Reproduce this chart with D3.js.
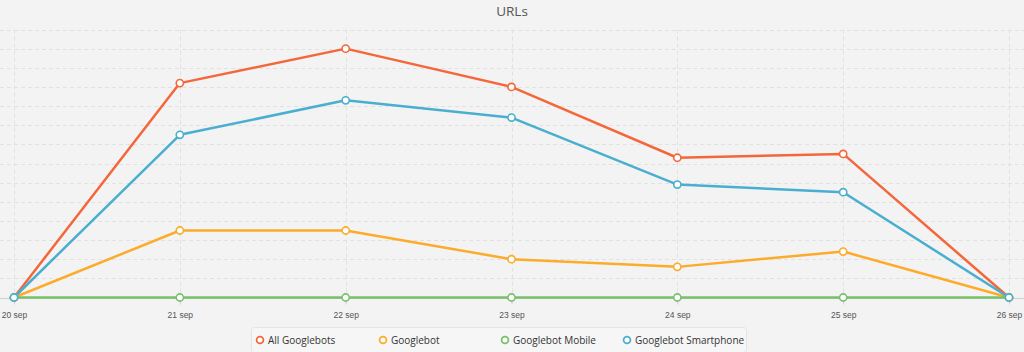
<!DOCTYPE html>
<html>
<head>
<meta charset="utf-8">
<script src="https://cdn.jsdelivr.net/npm/d3@7"></script>
<style>
  body { margin: 0; background: #f3f3f3; }
  svg { display: block; font-family: "Open Sans", "Noto Sans", sans-serif; }
</style>
</head>
<body>
<div id="chart"></div>
<script>
// data
const dates = ["20 sep", "21 sep", "22 sep", "23 sep", "24 sep", "25 sep", "26 sep"];
const seriesNames = ["All Googlebots", "Googlebot", "Googlebot Mobile", "Googlebot Smartphone"];
const allGooglebots = [0, 112, 130, 110, 73, 75, 0];
const googlebot = [0, 35, 35, 20, 16, 24, 0];
const googlebotMobile = [0, 0, 0, 0, 0, 0, 0];
const googlebotSmartphone = [0, 85, 103, 94, 59, 55, 0];
const colors = ["#f4673b", "#fcab2a", "#79c06b", "#4aaed1"];

const width = 1024, height = 352;
const series = [allGooglebots, googlebot, googlebotMobile, googlebotSmartphone];

const svg = d3.select("#chart")
    .append("svg")
    .attr("width", width)
    .attr("height", height);

svg.append("rect").attr("width", width).attr("height", height).attr("fill", "#f3f3f3");

const x = d3.scalePoint()
    .domain(dates)
    .range([14, 1009]);

const y = d3.scaleLinear()
    .domain([0, 140])
    .range([297.5, 29.5]);

// horizontal grid
svg.append("g")
    .selectAll("line")
    .data(d3.range(10, 141, 10))
    .join("line")
    .attr("x1", 0)
    .attr("x2", width)
    .attr("y1", d => Math.round(y(d)) + 0.5)
    .attr("y2", d => Math.round(y(d)) + 0.5)
    .attr("stroke", "#e1e1e1")
    .attr("stroke-dasharray", "4,3");

// vertical grid
svg.append("g")
    .selectAll("line")
    .data(dates)
    .join("line")
    .attr("x1", d => Math.round(x(d)) + 0.5)
    .attr("x2", d => Math.round(x(d)) + 0.5)
    .attr("y1", y(140))
    .attr("y2", y(0))
    .attr("stroke", "#e1e1e1")
    .attr("stroke-dasharray", "4,3");

// x axis
const xAxis = svg.append("g")
    .attr("transform", `translate(0,${Math.round(y(0)) + 0.5})`)
    .call(d3.axisBottom(x).tickSize(6).tickPadding(7));
xAxis.select(".domain").remove();
xAxis.insert("line", ":first-child")
    .attr("x1", 0).attr("x2", width)
    .attr("stroke", "#d0d0d0");
xAxis.selectAll(".tick line").attr("stroke", "#d0d0d0");
xAxis.selectAll(".tick text")
    .attr("fill", "#555")
    .style("font-size", "8.5px");

// title
svg.append("text")
    .attr("x", 512)
    .attr("y", 16)
    .attr("text-anchor", "middle")
    .attr("fill", "#555")
    .style("font-size", "13.5px")
    .text("URLs");

const line = d3.line()
    .x((d, i) => x(dates[i]))
    .y(d => y(d));

// lines
svg.append("g")
    .selectAll("path")
    .data(series)
    .join("path")
    .attr("d", d => line(d))
    .attr("fill", "none")
    .attr("stroke", (d, i) => colors[i])
    .attr("stroke-width", 2.5)
    .attr("stroke-linejoin", "round");

// markers
series.forEach(function(s, si) {
    svg.append("g")
        .selectAll("circle")
        .data(s)
        .join("circle")
        .attr("cx", (d, i) => x(dates[i]))
        .attr("cy", d => y(d))
        .attr("r", 3.6)
        .attr("fill", "#fff")
        .attr("stroke", colors[si])
        .attr("stroke-width", 1.6);
});

// legend
const legend = svg.append("g");
legend.append("rect")
    .attr("x", 251.5).attr("y", 327.5)
    .attr("width", 495).attr("height", 25)
    .attr("rx", 3)
    .attr("fill", "#f6f6f6")
    .attr("stroke", "#e4e4e4");

const legendX = [260, 383, 505, 627];
const item = legend.selectAll("g")
    .data(seriesNames)
    .join("g")
    .attr("transform", (d, i) => `translate(${legendX[i]},340)`);
item.append("circle")
    .attr("r", 3.4)
    .attr("fill", "#fff")
    .attr("stroke", (d, i) => colors[i])
    .attr("stroke-width", 1.8);
item.append("text")
    .attr("x", 8)
    .attr("dy", "0.35em")
    .attr("fill", "#333")
    .style("font-size", "10px")
    .text(d => d);
</script>
</body>
</html>
